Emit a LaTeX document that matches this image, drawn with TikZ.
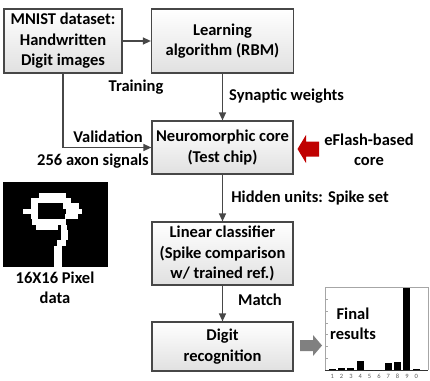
\documentclass[tikz,border=0pt]{standalone}
\usepackage{fontspec}
\setmainfont{Carlito}
\usetikzlibrary{arrows.meta}
\newcommand\lbl{\fontsize{16.5}{20.5}\selectfont\bfseries}
\definecolor{darkred}{HTML}{C00000}
\begin{document}
\begin{tikzpicture}[x=1pt,y=-1pt,
  box/.style={draw=black!72, line width=1.2pt, top color=white, bottom color=black!12,
    align=center, inner sep=0pt, font=\lbl},
  lab/.style={font=\lbl, inner sep=0pt, align=center},
  arr/.style={draw=black!72, line width=1.3pt, -{Triangle[length=8pt,width=7pt]}},
]
\useasboundingbox (0,0) rectangle (430,380);

% boxes
\node[box, minimum width=118pt, minimum height=64pt] (mnist) at (63,41) {MNIST dataset:\\Handwritten\\Digit images};
\node[box, minimum width=142pt, minimum height=64pt] (learn) at (222.5,41) {Learning\\algorithm (RBM)};
\node[box, minimum width=141pt, minimum height=53pt] (neuro) at (222.5,147.5) {Neuromorphic core\\(Test chip)};
\node[box, minimum width=141pt, minimum height=63pt] (lin) at (222.5,253.5) {Linear classifier\\(Spike comparison\\w/ trained ref.)};
\node[box, minimum width=141pt, minimum height=49pt] (digit) at (222.5,346.5) {Digit\\recognition};

% connectors
\draw[arr] (mnist) -- (learn);
\draw[arr] (learn) -- (neuro);
\draw[arr] (mnist.south) |- (neuro.west);
\draw[arr] (neuro) -- (lin);
\draw[arr] (lin) -- (digit);

% labels
\node[lab] (ltrain) at (136,87) {Training};
\node[lab, anchor=west] (lsyn) at (229,96) {Synaptic weights};
\node[lab] (lval) at (108,137) {Validation};
\node[lab] (laxon) at (93,161) {256 axon signals};
\node[lab] (lhid) at (310,198) {Hidden units: Spike set};
\node[lab] (lmatch) at (260,300) {Match};
\node[lab] (lflash) at (369,150) {eFlash-based\\core};
\node[lab] (lpix) at (55,288) {16X16 Pixel\\data};
\node[lab] (lfinal) at (353,324) {Final\\results};

% red block arrow
\fill[darkred] (319,141.5) -- (306,141.5) -- (306,135) -- (297.5,149) -- (306,163) -- (306,156.5) -- (319,156.5) -- cycle;
% gray block arrow
\fill[black!50] (300,340) -- (313,340) -- (313,335) -- (322,345.5) -- (313,356) -- (313,351) -- (300,351) -- cycle;

% 16x16 digit image
\fill[black] (3,182) rectangle (108,267);
\def\cw{6.5625}\def\ch{5.3125}
\foreach \r/\a/\b in {2/5.5/9.6, 3/4.2/10.4, 4/4.2/5.3, 4/9.2/11.6, 5/3/5.3, 5/9.6/12, 6/4.2/5.3, 6/9.4/11.5,
  7/4.4/9.6, 8/5/8.4, 8/8.9/9.8, 9/8.8/9.9, 10/8.8/9.9, 11/8.3/9.6, 12/7.7/9, 13/7.7/9, 14/7.7/9, 15/7.7/9}{
  \fill[white] ({3+\a*\cw},{182+\r*\ch}) rectangle ({3+\b*\cw},{182+(\r+1)*\ch});
}

% bar chart
\draw[black!35, line width=0.6pt] (325,370) -- (325,287) -- (428,287) -- (428,370);
\foreach \t in {0,...,6}{ \draw[black!35, line width=0.5pt] (325,{370-\t*11.8}) -- (327.5,{370-\t*11.8}); }
\draw[black!80, line width=0.8pt] (325,370) -- (428,370);
\foreach \i/\d/\top in {1/1/369.3, 2/2/368, 3/3/368, 4/4/360.5, 5/5/370, 6/6/370, 7/7/363, 8/8/362, 9/9/288, 10/0/369}{
  \pgfmathsetmacro\xc{332.3+9.33*(\i-1)}
  \fill[black] ({\xc-3.5},370) rectangle ({\xc+3.5},\top);
  \node[font=\fontsize{6.5}{6.5}\selectfont, text=black!65, inner sep=0pt] at (\xc,376) {\d};
}
\end{tikzpicture}
\end{document}
